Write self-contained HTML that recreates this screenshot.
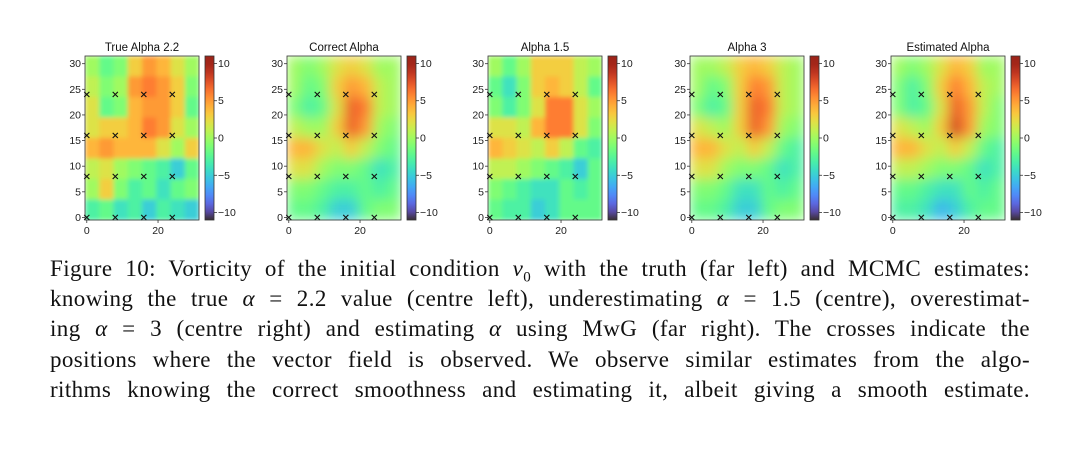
<!DOCTYPE html>
<html><head><meta charset="utf-8"><style>
body{margin:0;background:#fff;width:1080px;height:460px;overflow:hidden;position:relative}
svg{position:absolute;left:0;top:0}
.cap{position:absolute;left:50px;width:980px;font-family:"Liberation Serif",serif;font-size:23px;letter-spacing:0.4px;color:#111}
.cap div{height:30.2px;line-height:30px;text-align:justify;text-align-last:justify;white-space:nowrap}
</style></head><body>
<svg id="fig" width="1080" height="250">
<defs>
<filter id="blur" x="0" y="0" width="1" height="1"><feGaussianBlur stdDeviation="6" edgeMode="duplicate"/></filter>
<filter id="soft" x="0" y="0" width="1" height="1"><feGaussianBlur stdDeviation="2.5" edgeMode="duplicate"/></filter>
</defs>
</svg>
<div class="cap" style="top:254px">
<div>Figure 10: Vorticity of the initial condition <i>v</i><sub style="font-size:15px">0</sub> with the truth (far left) and MCMC estimates:</div>
<div>knowing the true <i>α</i> = 2.2 value (centre left), underestimating <i>α</i> = 1.5 (centre), overestimat-</div>
<div>ing <i>α</i> = 3 (centre right) and estimating <i>α</i> using MwG (far right). The crosses indicate the</div>
<div>positions where the vector field is observed. We observe similar estimates from the algo-</div>
<div>rithms knowing the correct smoothness and estimating it, albeit giving a smooth estimate.</div>
</div>
<script>
const titles=["True Alpha 2.2","Correct Alpha","Alpha 1.5","Alpha 3","Estimated Alpha"];
const smooth=[false,true,false,true,true];
const gridTrue=[[0,-2,-1,3,5,4,2,0],[1,-1,0,5,6,5,3,-1],[2,-2,-1,4,5,5,3,-2],[2,3,3,4,6,5,2,0],[4,5,4,4,4,2,0,3],[1,2,0,-1,-2,-3,-5,-2],[0,3,-1,-3,-2,-4,-2,-1],[-3,-2,-4,-3,-5,-3,-4,-5]];
const gridCorrect=[[0,-1,0,2,3,2,0,0],[0,-2,-1,3,5,4,1,0],[-1,-3,-2,2,7,6,1,0],[1,0,0,3,7,5,0,-1],[4,4,2,1,3,1,-1,-2],[2,2,0,-1,-1,-2,-4,-3],[-1,-1,-2,-3,-3,-2,-3,-2],[-2,-2,-3,-5,-5,-2,-1,-1]];
const grid15=[[0,-2,0,3,3,3,1,0],[-2,-4,-1,3,4,3,1,-2],[-1,-3,-1,2,6,6,2,0],[2,2,1,4,6,6,2,-1],[4,3,2,1,3,1,-2,-3],[1,1,0,-1,-2,-3,-5,-2],[-1,-2,-3,-4,-4,-2,-3,-2],[-2,-3,-3,-5,-4,-2,-2,-2]];
const grid3=[[0,0,1,3,4,3,1,0],[0,-2,-1,3,6,5,1,0],[-1,-3,-2,3,7,6,1,0],[2,1,0,3,7,5,0,-1],[4,4,2,1,3,1,-2,-3],[2,2,0,-1,-1,-2,-4,-3],[-1,-1,-2,-4,-4,-2,-3,-2],[-2,-2,-3,-5,-5,-2,-1,-1]];
const gridEst=[[0,-1,0,2,4,3,0,0],[-1,-3,-1,3,6,4,1,0],[-1,-3,-2,2,7,5,1,-1],[2,1,0,3,8,5,0,-1],[4,4,2,1,3,1,-2,-3],[1,1,0,-1,-1,-2,-4,-3],[-2,-2,-3,-4,-4,-2,-3,-2],[-3,-3,-4,-6,-5,-3,-2,-2]];
const grids=[gridTrue,gridCorrect,grid15,grid3,gridEst];
const obsX=[0,8,16,24];
const obsY=[0,8,16,24];
const yTicks=[0,5,10,15,20,25,30];
const xTicks=[0,20];
const cbTicks=[10,5,0,-5,-10];
const panelLeft=[85,287,488,690,891];
const NS="http://www.w3.org/2000/svg";
const svg=document.getElementById('fig');
const top0=56,H=164,W=114,vmin=-11,vmax=11;
function turbo(t){t=Math.max(0,Math.min(1,t));
const r=0.13572138+t*(4.6153926+t*(-42.66032258+t*(132.13108234+t*(-152.94239396+t*59.28637943))));
const g=0.09140261+t*(2.19418839+t*(4.84296658+t*(-14.18503333+t*(4.27729857+t*2.82956604))));
const b=0.1066733+t*(12.64194608+t*(-60.58204836+t*(110.36276771+t*(-89.90310912+t*27.34824973))));
const f=v=>Math.round(255*(0.9*Math.max(0,Math.min(1,v))+0.1*0.97));
return `rgb(${f(r)},${f(g)},${f(b)})`;}
function mk(tag,attrs,parent){const e=document.createElementNS(NS,tag);for(const k in attrs)e.setAttribute(k,attrs[k]);(parent||svg).appendChild(e);return e;}
const cbStops=mk('linearGradient',{id:'cbg',x1:0,y1:1,x2:0,y2:0},svg.querySelector('defs'));
for(let i=0;i<=20;i++)mk('stop',{offset:i/20,'stop-color':turbo(i/20)},cbStops);
titles.forEach((title,p)=>{
 const L=panelLeft[p];
 const xs=v=>L+(v+0.5)*W/32;
 const ys=v=>top0+H-(v+0.5)*H/32;
 const g=mk('g',{});
 
 
 const cells=mk('g',{filter:smooth[p]?'url(#blur)':'url(#soft)'},g);
 const grid=grids[p],n=grid.length,cw=W/n,ch=H/n;
 grid.forEach((row,r)=>row.forEach((v,c)=>{
  const rc=mk('rect',{x:L+c*cw,y:top0+r*ch,width:cw+0.5,height:ch+0.5,fill:turbo((v-vmin)/(vmax-vmin))},cells);
  
  
 }));
 mk('rect',{x:L,y:top0,width:W,height:H,fill:'none',stroke:'#333','stroke-width':0.8},g);
 obsY.forEach(oy=>obsX.forEach(ox=>{
  const cx=xs(ox),cy=ys(oy),s=2.6;
  const m=mk('path',{d:`M${cx-s},${cy-s}L${cx+s},${cy+s}M${cx-s},${cy+s}L${cx+s},${cy-s}`,stroke:'#111','stroke-width':1.1},g);
  
  
 }));
 yTicks.forEach(t=>{const y=ys(t);mk('line',{x1:L-3,x2:L,y1:y,y2:y,stroke:'#333','stroke-width':0.8},g);
  const tx=mk('text',{x:L-4,y:y+3.5,'font-size':10.5,'text-anchor':'end','font-family':'Liberation Sans, sans-serif',fill:'#222'},g);tx.textContent=t;
  });
 xTicks.forEach(t=>{const x=xs(t);mk('line',{x1:x,x2:x,y1:top0+H,y2:top0+H+3,stroke:'#333','stroke-width':0.8},g);
  const tx=mk('text',{x:x,y:top0+H+14,'font-size':10.5,'text-anchor':'middle','font-family':'Liberation Sans, sans-serif',fill:'#222'},g);tx.textContent=t;
  });
 const tt=mk('text',{x:L+W/2,y:top0-5,'font-size':11.5,'text-anchor':'middle','font-family':'Liberation Sans, sans-serif',fill:'#111'},g);tt.textContent=title;
 
 const cbx=L+W+6;
 const cb=mk('rect',{x:cbx,y:top0,width:9,height:H,fill:'url(#cbg)',stroke:'#333','stroke-width':0.8},g);
 
 cbTicks.forEach(t=>{const y=top0+H*(vmax-t)/(vmax-vmin);mk('line',{x1:cbx+9,x2:cbx+12,y1:y,y2:y,stroke:'#333','stroke-width':0.8},g);
  const tx=mk('text',{x:cbx+13,y:y+3.5,'font-size':10.5,'font-family':'Liberation Sans, DejaVu Sans, sans-serif',fill:'#222'},g);tx.textContent=t<0?'\u2212'+(-t):t;
  });
});
</script>
</body></html>
